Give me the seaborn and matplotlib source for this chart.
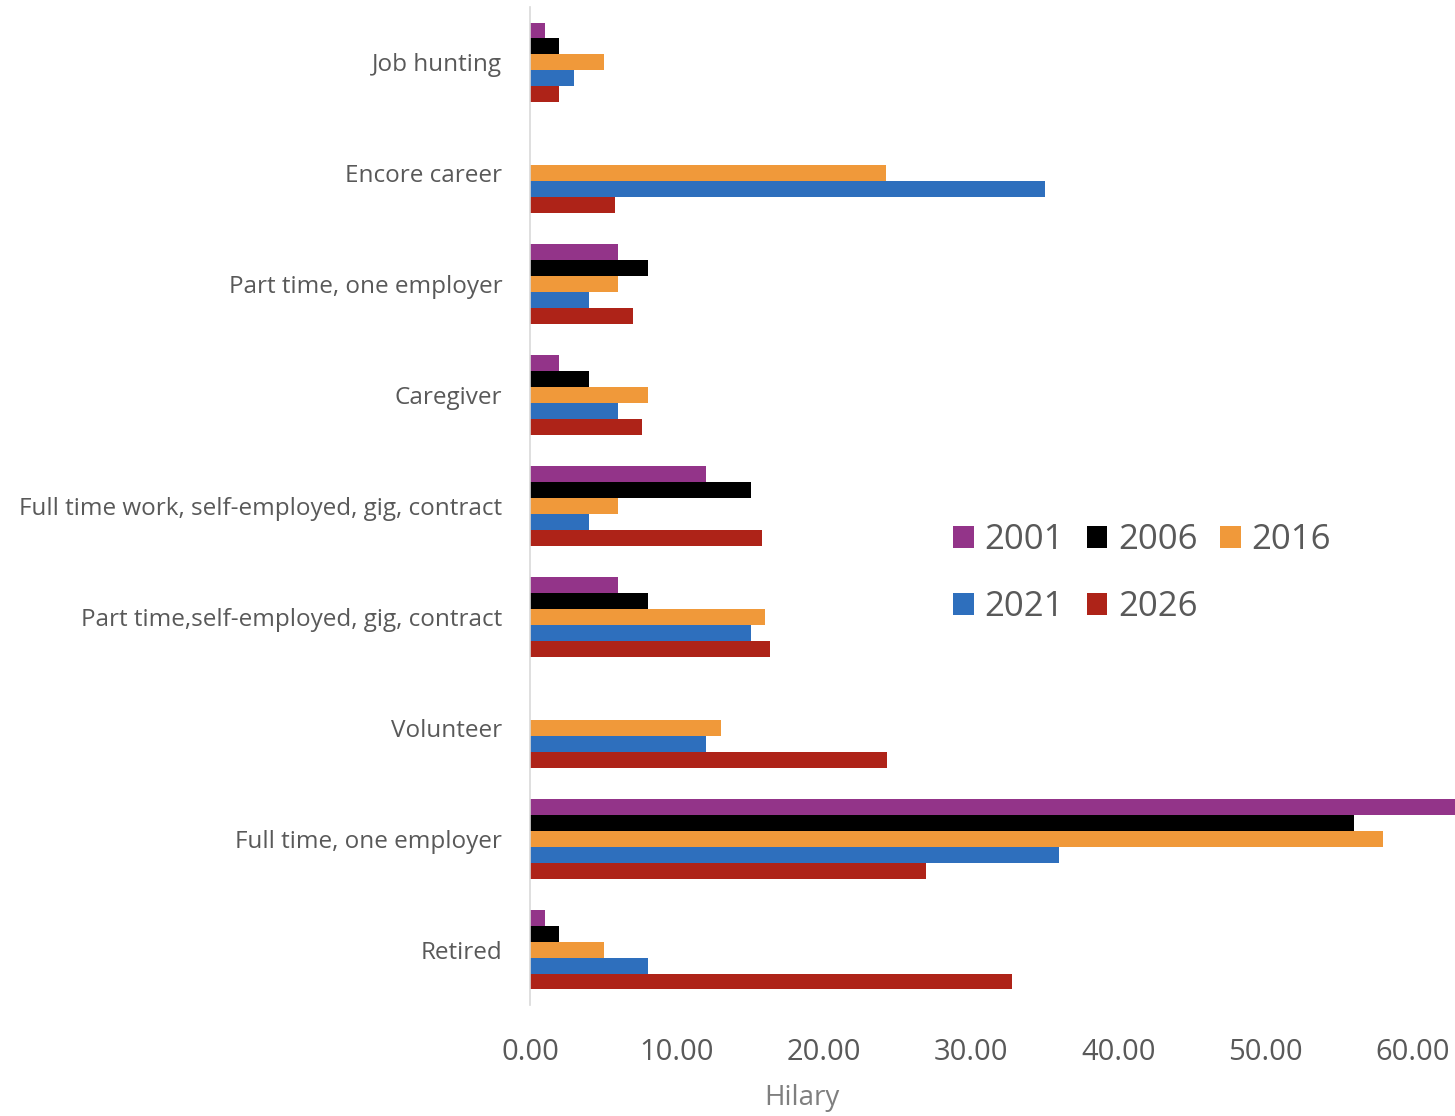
import numpy as np
import pandas as pd
import matplotlib
matplotlib.use('Agg')
import matplotlib.pyplot as plt
import seaborn as sns

# ── Data ──────────────────────────────────────────────────────────────────
categories = ['Job hunting', 'Encore career', 'Part time, one employer',
              'Caregiver', 'Full time work, self-employed, gig, contract',
              'Part time,self-employed, gig, contract', 'Volunteer',
              'Full time, one employer', 'Retired']
years = ['2001', '2006', '2016', '2021', '2026']

v2001 = [1.0, 0.0, 6.0, 2.0, 12.0, 6.0, 0.0, 64.0, 1.0]
v2006 = [2.0, 0.0, 8.0, 4.0, 15.0, 8.0, 0.0, 56.0, 2.0]
v2016 = [5.0, 24.2, 6.0, 8.0, 6.0, 16.0, 13.0, 58.0, 5.0]
v2021 = [3.0, 35.0, 4.0, 6.0, 4.0, 15.0, 12.0, 36.0, 8.0]
v2026 = [2.0, 5.8, 7.0, 7.6, 15.8, 16.3, 24.3, 26.9, 32.8]

colors = ['#933489', '#000000', '#F0993A', '#2E6FBD', '#AE2318']

df = pd.DataFrame({'category': categories * 5,
                   'year': np.repeat(years, len(categories)),
                   'value': v2001 + v2006 + v2016 + v2021 + v2026})

# ── Plot ──────────────────────────────────────────────────────────────────
sns.set_style('white')
plt.rcParams['font.family'] = ['Open Sans', 'DejaVu Sans']
txt = '#595959'

fig = plt.figure(figsize=(14.55, 11.16), dpi=100)
ax = fig.add_axes([530/1455, 1 - 1005/1116, 925/1455, 998/1116])

sns.barplot(data=df, y='category', x='value', hue='year', order=categories,
            hue_order=years, palette=colors, saturation=1, orient='h',
            width=0.72, edgecolor='none', linewidth=0, ax=ax)

ax.set_xlim(0, 62.9)
ax.set_xticks(np.arange(0, 61, 10))
ax.set_xticklabels([f'{t:.2f}' for t in np.arange(0, 61, 10)],
                   fontsize=21, color=txt)
ax.tick_params(axis='y', labelsize=17.5, labelcolor=txt, length=0, pad=20)
ax.tick_params(axis='x', length=0, pad=24)
ax.set_ylabel('')
ax.set_xlabel('Hilary', fontsize=20, color='#7f7f7f')
ax.xaxis.set_label_coords((802 - 530) / 925, -(1084 - 1005) / 998)

for s in ['top', 'right', 'bottom']:
    ax.spines[s].set_visible(False)
ax.spines['left'].set_color('#d9d9d9')
ax.spines['left'].set_linewidth(1.2)

# legend reads row by row: 2001 2006 2016 / 2021 2026
handles, labels = ax.get_legend_handles_labels()
order = [0, 3, 1, 4, 2]
ax.legend([handles[i] for i in order], [labels[i] for i in order], ncol=3,
          loc='upper left', bbox_to_anchor=(922/1455, 1 - 492/1116),
          bbox_transform=fig.transFigure, frameon=False, fontsize=25,
          labelcolor=txt, handlelength=0.6, handleheight=0.6,
          handletextpad=0.3, columnspacing=0.65, labelspacing=0.95)

fig.savefig('out.png', dpi=100)
